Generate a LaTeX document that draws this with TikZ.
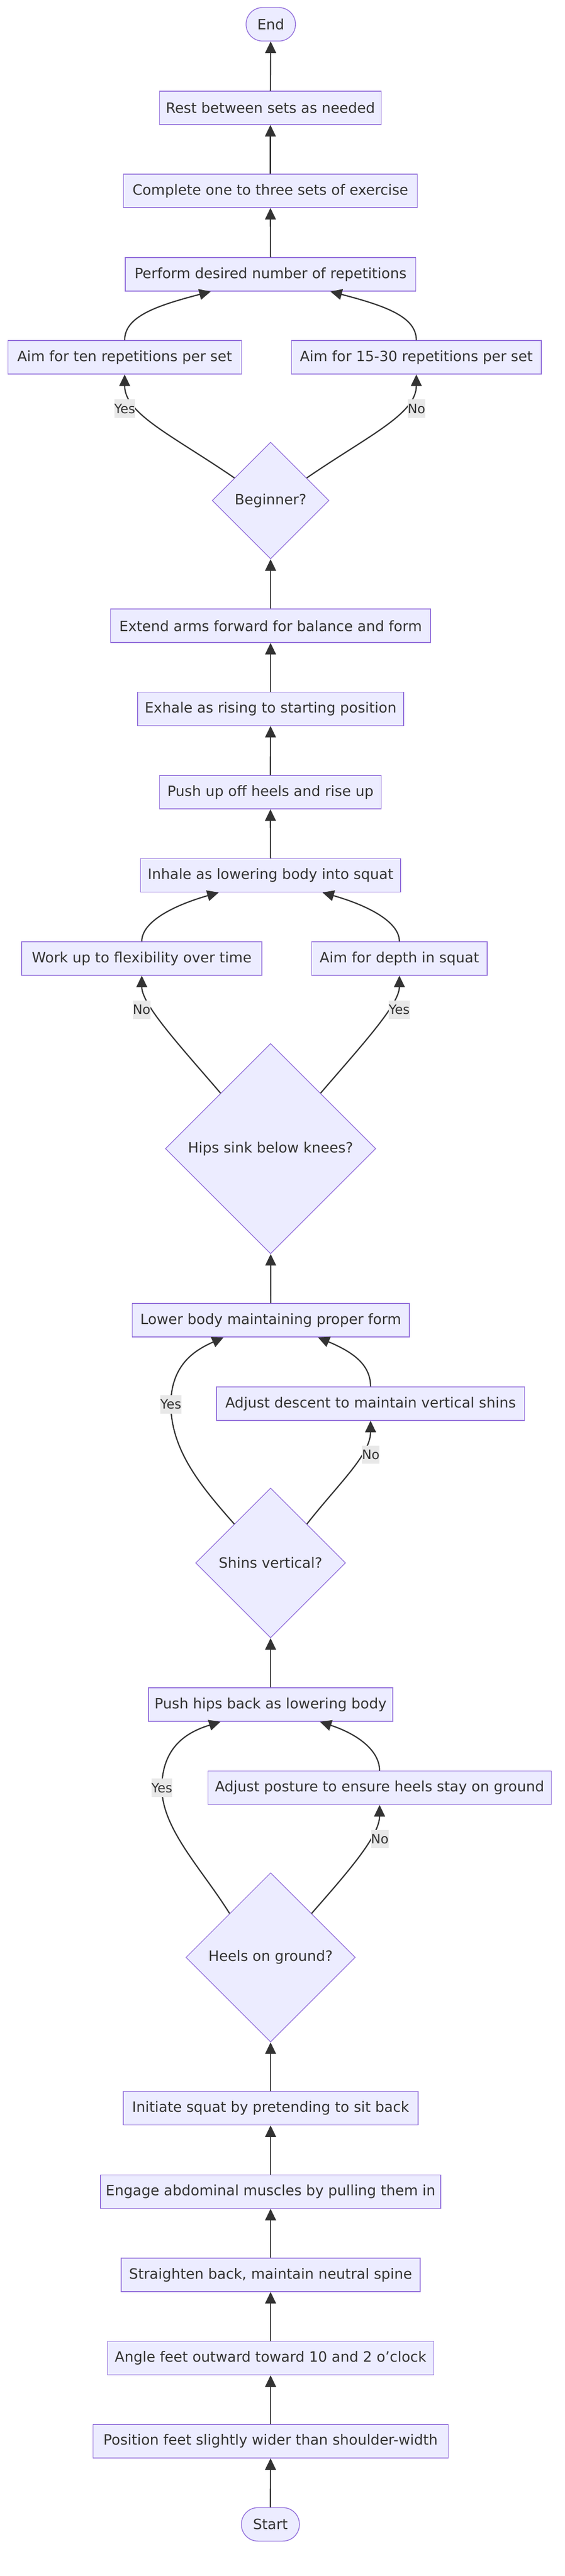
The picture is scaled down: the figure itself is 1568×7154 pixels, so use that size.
\documentclass[tikz,border=0pt]{standalone}
\usepackage{fontspec}
\setmainfont{DejaVu Sans}
\usetikzlibrary{shapes.geometric,arrows.meta}
\definecolor{nfill}{HTML}{ECECFF}
\definecolor{nline}{HTML}{9370DB}
\definecolor{ink}{HTML}{333333}
\definecolor{lblbg}{HTML}{E8E8E8}
\begin{document}
\begin{tikzpicture}[x=1pt,y=-1pt,
  box/.style={draw=nline, fill=nfill, line width=2.2pt, text=ink,
    font=\fontsize{39.5}{47}\selectfont, inner sep=0pt, minimum height=93pt},
  term/.style={box, rounded corners=46pt},
  dec/.style={draw=nline, fill=nfill, line width=2pt, text=ink,
    font=\fontsize{39.5}{47}\selectfont, diamond, aspect=1, inner sep=0pt},
  lbl/.style={fill=lblbg, text=ink, font=\fontsize{36}{43}\selectfont,
    inner sep=0pt, minimum height=51pt},
  edge/.style={draw=ink, line width=3.4pt, -{Triangle[length=32pt,width=30pt]}}
]
\fill[white] (0,0) rectangle (1568,7154);
\useasboundingbox (0,0) rectangle (1568,7154);

% nodes
\node[term, minimum width=137pt] (endn) at (751.5,67.5) {End};
\node[box, minimum width=615pt] (rest) at (750.5,299.5) {Rest between sets as needed};
\node[box, minimum width=815pt] (complete) at (750.5,530) {Complete one to three sets of exercise};
\node[box, minimum width=806pt] (perform) at (751,762) {Perform desired number of repetitions};
\node[box, minimum width=648pt] (aimten) at (346,992.5) {Aim for ten repetitions per set};
\node[box, minimum width=693pt] (aimmore) at (1155.5,992.5) {Aim for 15-30 repetitions per set};
\node[dec, minimum width=324pt, minimum height=324pt] (beg) at (751,1390) {Beginner?};
\node[box, minimum width=888pt] (extend) at (751,1738) {Extend arms forward for balance and form};
\node[box, minimum width=738pt] (exhale) at (751,1968.5) {Exhale as rising to starting position};
\node[box, minimum width=615pt] (pushup) at (750.5,2200) {Push up off heels and rise up};
\node[box, minimum width=722pt] (inhale) at (751,2431) {Inhale as lowering body into squat};
\node[box, minimum width=667pt] (work) at (393.5,2662) {Work up to flexibility over time};
\node[box, minimum width=487pt] (depth) at (1108.5,2662) {Aim for depth in squat};
\node[dec, minimum width=584pt, minimum height=584pt] (hips) at (751,3190) {Hips sink below knees?};
\node[box, minimum width=769pt] (lower) at (751.5,3666.5) {Lower body maintaining proper form};
\node[box, minimum width=855pt] (adjd) at (1028.5,3898) {Adjust descent to maintain vertical shins};
\node[dec, minimum width=416pt, minimum height=416pt] (shins) at (751,4340.5) {Shins vertical?};
\node[box, minimum width=678pt] (pushhips) at (751,4734) {Push hips back as lowering body};
\node[box, minimum width=953pt] (adjp) at (1053.5,4965) {Adjust posture to ensure heels stay on ground};
\node[dec, minimum width=470pt, minimum height=470pt] (heels) at (751,5436) {Heels on ground?};
\node[box, minimum width=818pt] (initiate) at (751,5855) {Initiate squat by pretending to sit back};
\node[box, minimum width=944pt] (engage) at (751,6086.5) {Engage abdominal muscles by pulling them in};
\node[box, minimum width=830pt] (straighten) at (751,6317.5) {Straighten back, maintain neutral spine};
\node[box, minimum width=906pt] (angle) at (751,6549) {Angle feet outward toward 10 and 2 o'clock};
\node[box, minimum width=986pt] (position) at (751,6779.5) {Position feet slightly wider than shoulder-width};
\node[term, minimum width=161pt] (start) at (750.5,7010.5) {Start};

% label positions
\coordinate (lyes1) at (346,1135);
\coordinate (lno1) at (1156,1135);
\coordinate (lno2) at (393,2804);
\coordinate (lyes2) at (1108,2804);
\coordinate (lyes3) at (474,3900);
\coordinate (lno3) at (1029,4040);
\coordinate (lyes4) at (449,4965);
\coordinate (lno4) at (1054,5107);

% straight connectors
\draw[edge] (rest) -- (endn);
\draw[edge] (complete) -- (rest);
\draw[edge] (perform) -- (complete);
\draw[edge] (extend) -- (beg);
\draw[edge] (exhale) -- (extend);
\draw[edge] (pushup) -- (exhale);
\draw[edge] (inhale) -- (pushup);
\draw[edge] (lower) -- (hips);
\draw[edge] (pushhips) -- (shins);
\draw[edge] (initiate) -- (heels);
\draw[edge] (engage) -- (initiate);
\draw[edge] (straighten) -- (engage);
\draw[edge] (angle) -- (straighten);
\draw[edge] (position) -- (angle);
\draw[edge] (start) -- (position);

% curved connectors
\draw[edge] (aimten.north) .. controls (346,880) and (430,850) .. ([xshift=-166pt]perform.south);
\draw[edge] (aimmore.north) .. controls (1155.5,880) and (1072,850) .. ([xshift=166pt]perform.south);
\draw[edge] (beg.148) .. controls (480,1210) and (346,1150) .. (aimten.south);
\draw[edge] (beg.32) .. controls (1022,1210) and (1155.5,1150) .. (aimmore.south);

\draw[edge] (work.north) .. controls (393.5,2560) and (480,2515) .. ([xshift=-144pt]inhale.south);
\draw[edge] (depth.north) .. controls (1108.5,2560) and (1022,2515) .. ([xshift=144pt]inhale.south);
\draw[edge] (hips.132) .. controls (500,2905) and (393.5,2790) .. (work.south);
\draw[edge] (hips.48) .. controls (1002,2905) and (1108.5,2790) .. (depth.south);

\draw[edge] (shins.133) .. controls (560,4130) and (475,4030) .. (lyes3)
  .. controls (475,3790) and (540,3750) .. ([xshift=-131pt]lower.south);
\draw[edge] (shins.47) .. controls (940,4120) and (1028.5,4040) .. (adjd.south);
\draw[edge] (adjd.north) .. controls (1028.5,3790) and (980,3755) .. ([xshift=131pt]lower.south);

\draw[edge] (heels.133) .. controls (560,5190) and (450,5080) .. (lyes4)
  .. controls (450,4850) and (520,4810) .. ([xshift=-139pt]pushhips.south);
\draw[edge] (heels.47) .. controls (960,5205) and (1053.5,5100) .. (adjp.south);
\draw[edge] (adjp.north) .. controls (1053.5,4860) and (990,4815) .. ([xshift=137pt]pushhips.south);

% edge labels
\node[lbl] (t1) at (lyes1) {Yes};
\node[lbl] (t2) at (lno1) {No};
\node[lbl] (t3) at (lno2) {No};
\node[lbl] (t4) at (lyes2) {Yes};
\node[lbl] (t5) at (lyes3) {Yes};
\node[lbl] (t6) at (lno3) {No};
\node[lbl] (t7) at (lyes4) {Yes};
\node[lbl] (t8) at (lno4) {No};
\end{tikzpicture}
\end{document}
